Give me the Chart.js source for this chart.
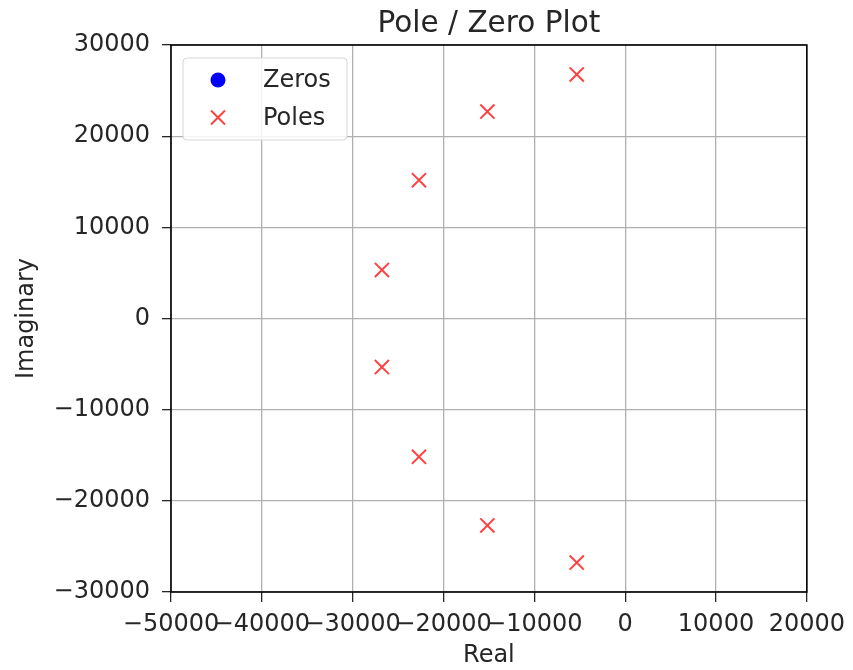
<!DOCTYPE html>
<html>
<head>
<meta charset="utf-8">
<script src="https://cdn.jsdelivr.net/npm/chart.js@4"></script>
<style>
  html, body { margin: 0; padding: 0; background: #ffffff; }
  #wrap { width: 853px; height: 670px; }
</style>
</head>
<body>
<div id="wrap"><canvas id="pz" width="853" height="670"></canvas></div>
<script>
const poleReal = [-5330, -15170, -22700, -26780, -26780, -22700, -15170, -5330];
const poleImag = [26770, 22700, 15170, 5330, -5330, -15170, -22700, -26770];
const zeroReal = [];
const zeroImag = [];
const xTicks = [-50000, -40000, -30000, -20000, -10000, 0, 10000, 20000];
const yTicks = [-30000, -20000, -10000, 0, 10000, 20000, 30000];
const titleText = 'Pole / Zero Plot';

const FONT = "'DejaVu Sans', sans-serif";
const INK = '#262626';

const toPoints = (xs, ys) => xs.map((x, i) => ({ x: x, y: ys[i] }));

// title over the axes, black frame, legend box inside the axes
const framePlugin = {
    id: 'frame',
    afterDatasetsDraw(chart) {
        const ctx = chart.ctx;
        const a = chart.chartArea;
        ctx.save();

        ctx.fillStyle = INK;
        ctx.font = '29.5px ' + FONT;
        ctx.textAlign = 'center';
        ctx.textBaseline = 'alphabetic';
        ctx.fillText(titleText, (a.left + a.right) / 2, 32);

        ctx.strokeStyle = '#000000';
        ctx.lineWidth = 1.6;
        ctx.strokeRect(a.left, a.top, a.right - a.left, a.bottom - a.top);

        // legend
        const bx = a.left + 12, by = a.top + 13, bw = 164, bh = 82;
        ctx.fillStyle = 'rgba(255,255,255,0.85)';
        ctx.strokeStyle = '#d6d6d6';
        ctx.lineWidth = 1;
        ctx.beginPath();
        ctx.roundRect(bx, by, bw, bh, 4);
        ctx.fill();
        ctx.stroke();

        ctx.font = '24px ' + FONT;
        ctx.textBaseline = 'middle';
        ctx.textAlign = 'left';
        chart.data.datasets.forEach((ds, i) => {
            const cy = by + 22 + i * 37.5;
            const cx = bx + 35;
            ctx.fillStyle = ds.backgroundColor;
            ctx.strokeStyle = ds.borderColor;
            ctx.lineWidth = ds.borderWidth;
            if (ds.pointStyle === 'circle') {
                ctx.beginPath();
                ctx.arc(cx, cy, 7.5, 0, Math.PI * 2);
                ctx.fill();
            } else {
                const r = 7;
                ctx.beginPath();
                ctx.moveTo(cx - r, cy - r); ctx.lineTo(cx + r, cy + r);
                ctx.moveTo(cx - r, cy + r); ctx.lineTo(cx + r, cy - r);
                ctx.stroke();
            }
            ctx.fillStyle = INK;
            ctx.fillText(ds.label, bx + 80, cy + 1);
        });
        ctx.restore();
    }
};

new Chart(document.getElementById('pz'), {
    type: 'scatter',
    data: {
        datasets: [
            {
                label: 'Zeros',
                data: toPoints(zeroReal, zeroImag),
                pointStyle: 'circle',
                pointRadius: 7.5,
                backgroundColor: '#0000ff',
                borderColor: '#0000ff',
                borderWidth: 0
            },
            {
                label: 'Poles',
                data: toPoints(poleReal, poleImag),
                pointStyle: 'crossRot',
                pointRadius: 10,
                backgroundColor: 'rgba(255,0,0,0.75)',
                borderColor: 'rgba(255,0,0,0.75)',
                borderWidth: 2
            }
        ]
    },
    options: {
        responsive: false,
        animation: false,
        layout: { padding: { left: 0, right: 45, top: 45, bottom: 0 } },
        plugins: {
            legend: { display: false },
            tooltip: { enabled: false },
            title: { display: false }
        },
        scales: {
            x: {
                type: 'linear',
                min: xTicks[0],
                max: xTicks[xTicks.length - 1],
                afterBuildTicks: axis => { axis.ticks = xTicks.map(v => ({ value: v })); },
                afterFit: axis => { axis.height = 78; },
                grid: { color: '#b0b0b0', lineWidth: 1.3, tickColor: INK, tickLength: 10 },
                border: { display: false },
                ticks: {
                    color: INK,
                    font: { family: FONT, size: 24 },
                    padding: 8,
                    maxRotation: 0,
                    autoSkip: false,
                    callback: v => String(v).replace('-', '\u2212')
                },
                title: {
                    display: true,
                    text: 'Real',
                    color: INK,
                    font: { family: FONT, size: 24 },
                    padding: { top: 0, bottom: 0 }
                }
            },
            y: {
                type: 'linear',
                min: yTicks[0],
                max: yTicks[yTicks.length - 1],
                afterBuildTicks: axis => { axis.ticks = yTicks.map(v => ({ value: v })); },
                afterFit: axis => { axis.width = 171; },
                grid: { color: '#b0b0b0', lineWidth: 1.3, tickColor: INK, tickLength: 9 },
                border: { display: false },
                ticks: {
                    color: INK,
                    font: { family: FONT, size: 24 },
                    padding: 12,
                    autoSkip: false,
                    callback: v => String(v).replace('-', '\u2212')
                },
                title: {
                    display: true,
                    text: 'Imaginary',
                    color: INK,
                    font: { family: FONT, size: 24 },
                    padding: { top: 12, bottom: 0 }
                }
            }
        }
    },
    plugins: [framePlugin]
});
</script>
</body>
</html>
